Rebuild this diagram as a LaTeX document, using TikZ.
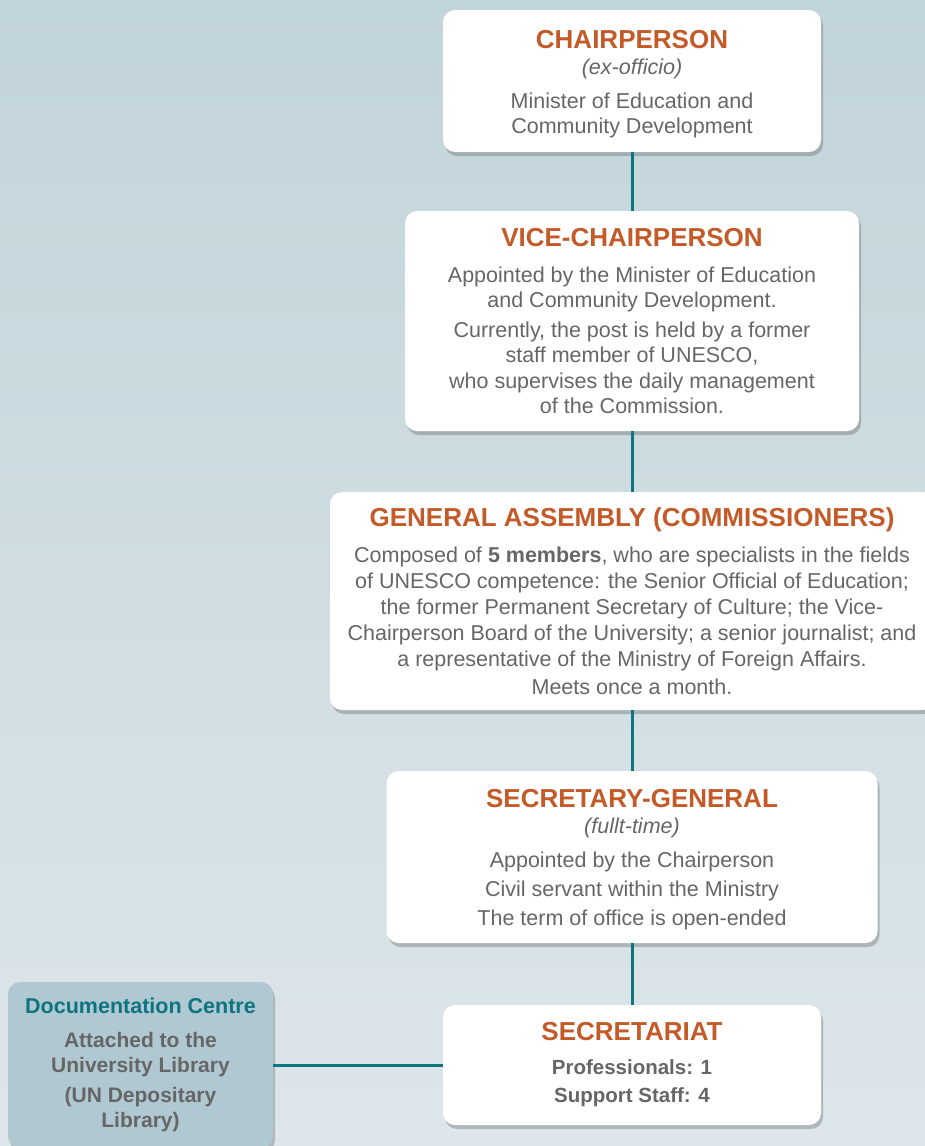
\documentclass[tikz,border=0pt]{standalone}
\usepackage{fontspec}
\setmainfont{Liberation Sans}
\usetikzlibrary{shadows}
\definecolor{titleorange}{HTML}{C45A28}
\definecolor{bodygray}{HTML}{666666}
\definecolor{linkteal}{HTML}{0E7480}
\definecolor{bgtop}{HTML}{C1D4DA}
\definecolor{bgbottom}{HTML}{DDE6EA}
\definecolor{docfill}{HTML}{AFC8D2}
\newcommand{\orgtitle}[1]{{\fontsize{26}{25}\selectfont\bfseries\color{titleorange}#1}}

\begin{document}
\begin{tikzpicture}[x=1pt, y=-1pt,
  orgbox/.style={rounded corners=12pt, fill=white, inner sep=0pt, align=center,
    text=bodygray, font=\fontsize{21.5}{25}\selectfont,
    drop shadow={shadow xshift=2pt, shadow yshift=-4pt, opacity=0.3, fill=black!70}},
  docbox/.style={orgbox, fill=docfill, font=\fontsize{21}{25}\selectfont\bfseries},
  link/.style={draw=linkteal, line width=3pt}]
\useasboundingbox (0,0) rectangle (925,1146);
\fill[top color=bgtop, bottom color=bgbottom] (0,0) rectangle (925,1146);

\node[orgbox, minimum width=378pt, minimum height=142pt] (chair) at (632,81)
  {\rule{0pt}{25pt}\orgtitle{CHAIRPERSON}\\[1pt]
   \textit{(ex-officio)}\\[9pt]
   Minister of Education and\\
   Community Development};
\node[orgbox, minimum width=454pt, minimum height=220pt] (vice) at (632,321)
  {\orgtitle{VICE-CHAIRPERSON}\\[11pt]
   Appointed by the Minister of Education\\
   and Community Development.\\[5pt]
   Currently, the post is held by a former\\
   staff member of UNESCO,\\[1pt]
   who supervises the daily management\\
   of the Commission.};
\node[orgbox, minimum width=604pt, minimum height=218pt] (assembly) at (632,601)
  {\orgtitle{GENERAL ASSEMBLY (COMMISSIONERS)}\\[11pt]
   Composed of \textbf{5 members}, who are specialists in the fields\\[1pt]
   of UNESCO competence: the Senior Official of Education;\\[1pt]
   the former Permanent Secretary of Culture; the Vice-\\[1pt]
   Chairperson Board of the University; a senior journalist; and\\[1pt]
   a representative of the Ministry of Foreign Affairs.\\[3pt]
   Meets once a month.};
\node[orgbox, minimum width=491pt, minimum height=172pt] (secgen) at (632,857)
  {\rule{0pt}{23pt}\orgtitle{SECRETARY-GENERAL}\\[1pt]
   \textit{(fullt-time)}\\[9pt]
   Appointed by the Chairperson\\[4pt]
   Civil servant within the Ministry\\[4pt]
   The term of office is open-ended};
\node[orgbox, minimum width=378pt, minimum height=120pt,
      font=\fontsize{20.5}{25}\selectfont] (secretariat) at (632,1065)
  {\orgtitle{SECRETARIAT}\\[9pt]
   \textbf{Professionals: 1}\\[3pt]
   \textbf{Support Staff: 4}};
\node[docbox, minimum width=265pt, minimum height=166pt] (doc) at (140.5,1065)
  {{\fontsize{21.5}{25}\selectfont\color{linkteal}Documentation Centre}\\[9pt]
   Attached to the\\
   University Library\\[5pt]
   (UN Depositary\\
   Library)};

\draw[link] (chair) -- (vice);
\draw[link] (vice) -- (assembly);
\draw[link] (assembly) -- (secgen);
\draw[link] (secgen) -- (secretariat);
\draw[link] (doc) -- (secretariat);
\end{tikzpicture}
\end{document}
